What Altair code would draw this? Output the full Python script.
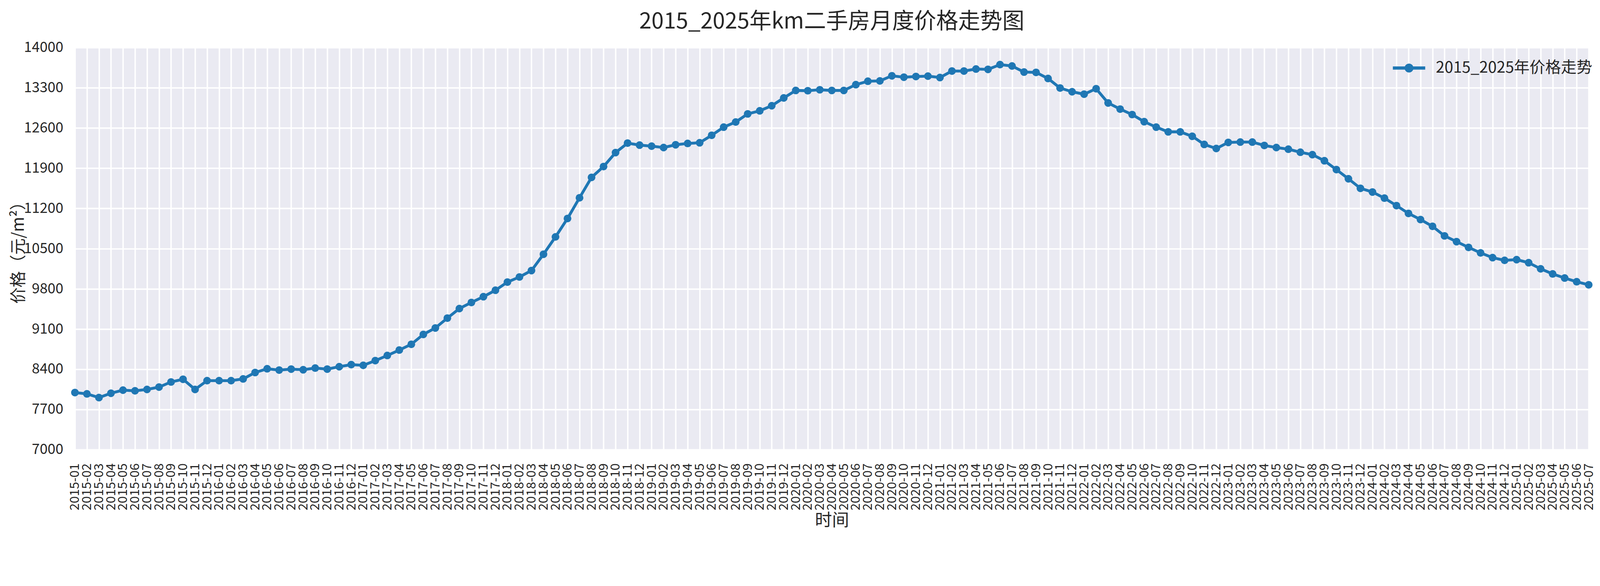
import altair as alt
import pandas as pd

# ---- data ----
years = list(range(2015, 2026))
months = [f"{y}-{m:02d}" for y in years for m in range(1, 13)][:127]

p2015 = [7994, 7971, 7906, 7982, 8036, 8024, 8048, 8089, 8178, 8225, 8048, 8201]
p2016 = [8201, 8201, 8231, 8343, 8408, 8385, 8402, 8391, 8420, 8402, 8444, 8480]
p2017 = [8468, 8550, 8639, 8734, 8834, 9006, 9118, 9290, 9456, 9562, 9663, 9775]
p2018 = [9917, 10006, 10118, 10402, 10704, 11024, 11385, 11740, 11929, 12172, 12337, 12302]
p2019 = [12284, 12260, 12308, 12331, 12343, 12473, 12615, 12704, 12846, 12899, 12988, 13124]
p2020 = [13254, 13249, 13266, 13254, 13254, 13355, 13414, 13420, 13509, 13485, 13497, 13503]
p2021 = [13479, 13592, 13592, 13627, 13621, 13704, 13680, 13574, 13568, 13462, 13296, 13231]
p2022 = [13189, 13284, 13036, 12929, 12834, 12710, 12615, 12533, 12533, 12456, 12314, 12243]
p2023 = [12349, 12355, 12355, 12296, 12260, 12231, 12178, 12136, 12030, 11876, 11716, 11550]
p2024 = [11485, 11379, 11249, 11113, 11006, 10888, 10722, 10621, 10521, 10426, 10343, 10296]
p2025 = [10308, 10255, 10148, 10059, 9988, 9923, 9870]

prices = p2015 + p2016 + p2017 + p2018 + p2019 + p2020 + p2021 + p2022 + p2023 + p2024 + p2025
series_name = "2015_2025年价格走势"
y_ticks = [7000, 7700, 8400, 9100, 9800, 10500, 11200, 11900, 12600, 13300, 14000]

df = pd.DataFrame({"month": months, "price": prices, "series": [series_name] * len(months)})

FONT = "Noto Sans CJK SC"
TXT = "#262626"
BLUE = "#1f77b4"
PW, PH = 4259, 1131

x_enc = alt.X(
    "month:O",
    sort=months,
    scale=alt.Scale(type="point", padding=0),
    axis=alt.Axis(
        title="时间", labelAngle=270, labelFontSize=36, labelPadding=38,
        labelOverlap=False, labelFlush=False, labelBound=False,
        ticks=False, domain=False, grid=True, gridColor="white", gridWidth=4,
        titleFontSize=48, titleFontWeight="normal", titleX=PW / 2, titleY=200,
        titleBaseline="middle", titleAlign="center",
    ),
)
y_enc = alt.Y(
    "price:Q",
    scale=alt.Scale(domain=[7000, 14000], nice=False, zero=False),
    axis=alt.Axis(
        title="价格（元/m²）", values=y_ticks, format="d", labelFontSize=40, labelPadding=33,
        ticks=False, domain=False, grid=True, gridColor="white", gridWidth=4,
        titleFontSize=46, titleFontWeight="normal", titleAngle=270,
        titleX=-158, titleY=PH / 2, titleAlign="center", titleBaseline="middle",
    ),
)

base = alt.Chart(df).encode(x=x_enc, y=y_enc)

line = base.mark_line(color=BLUE, strokeWidth=8, strokeJoin="round")
pts = base.mark_circle(size=470, opacity=1).encode(
    color=alt.Color(
        "series:N",
        scale=alt.Scale(range=[BLUE]),
        legend=alt.Legend(
            title=None, orient="none", legendX=3708, legendY=12, padding=0,
            symbolType="M-1,-0.099 L1,-0.099 L1,0.099 L-1,0.099 Z M-0.275,0 A0.275,0.275 0 1,1 0.275,0 A0.275,0.275 0 1,1 -0.275,0 Z",
            symbolSize=8281, symbolFillColor=BLUE, symbolStrokeWidth=0, symbolOpacity=1,
            labelFontSize=44, labelOffset=30, labelFont=FONT, labelColor=TXT, labelLimit=0,
        ),
    )
)

chart = (
    alt.layer(line, pts)
    .properties(
        width=PW, height=PH,
        title=alt.TitleParams(
            "2015_2025年km二手房月度价格走势图", fontSize=62, font=FONT,
            fontWeight="normal", color=TXT, offset=21, anchor="middle",
        ),
        autosize=alt.AutoSizeParams(type="none"),
        padding={"left": 202, "top": 55, "right": 23, "bottom": 230},
        background="white",
    )
    .configure_view(fill="#EAEAF2", stroke=None)
    .configure_axis(labelFont=FONT, titleFont=FONT, labelColor=TXT, titleColor=TXT)
)

chart.save("out.html", embed_options={"renderer": "svg", "actions": False})
